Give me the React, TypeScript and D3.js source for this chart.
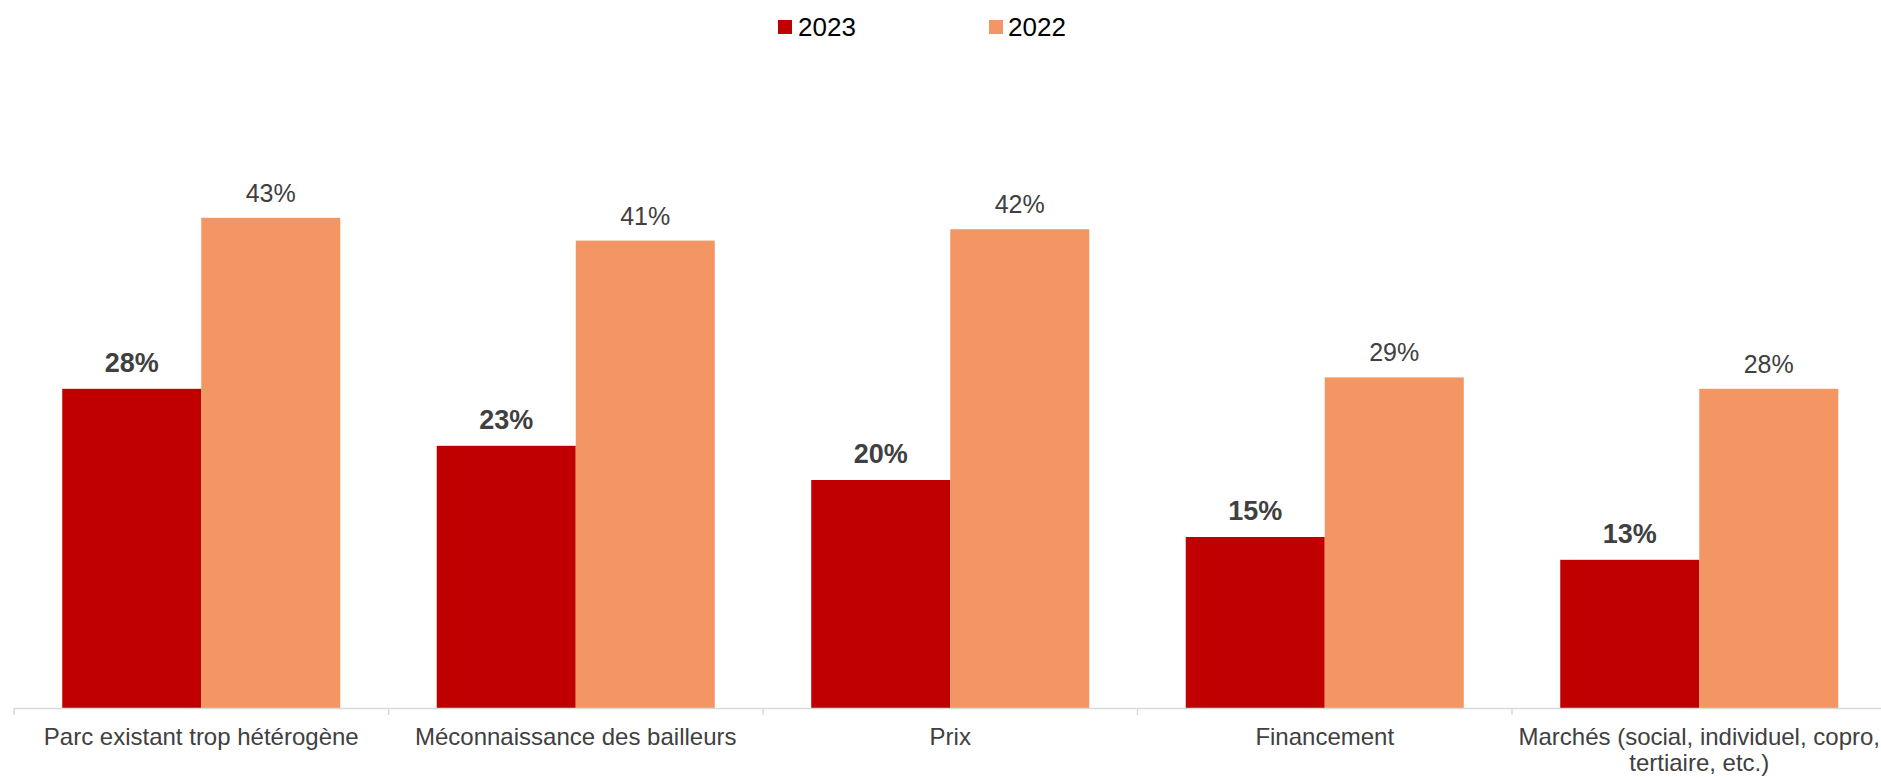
import React from "react";
import * as d3 from "d3";

const categories: string[][] = [
  ["Parc existant trop hétérogène"],
  ["Méconnaissance des bailleurs"],
  ["Prix"],
  ["Financement"],
  ["Marchés (social, individuel, copro,", "tertiaire, etc.)"],
];
const seriesNames = ["2023", "2022"];
const values2023 = [28, 23, 20, 15, 13];
const values2022 = [43, 41, 42, 29, 28];
const colors = ["#C00000", "#F49664"];

const W = 1881;
const H = 777;
const FONT = "'Liberation Sans', Arial, Helvetica, sans-serif";

export default function App() {
  const keys = categories.map((_, i) => String(i));
  const x0 = d3.scaleBand<string>().domain(keys).range([14, 1886.5]).paddingInner(0).paddingOuter(0);
  const x1 = d3.scaleBand<string>().domain(seriesNames).range([0, x0.bandwidth()]).paddingInner(0).paddingOuter(0.347);
  const y = d3.scaleLinear().domain([0, 50]).range([708, 138]);
  const data = [values2023, values2022];
  const baseY = y(0);

  return (
    <svg width={W} height={H} style={{ position: "absolute", left: 0, top: 0, background: "#fff" }} fontFamily={FONT}>
      {/* legend */}
      <g>
        <rect x={778} y={20} width={14} height={14} fill={colors[0]} />
        <text x={798} y={36} fontSize={26} fill="#000">{seriesNames[0]}</text>
        <rect x={989} y={20} width={14} height={14} fill={colors[1]} />
        <text x={1008} y={36} fontSize={26} fill="#000">{seriesNames[1]}</text>
      </g>
      {/* bars */}
      {keys.map((k, i) => (
        <g key={k} transform={`translate(${x0(k)},0)`}>
          {seriesNames.map((s, j) => {
            const v = data[j][i];
            const bx = x1(s)!;
            const bw = x1.bandwidth();
            return (
              <g key={s}>
                <rect x={bx} y={y(v)} width={bw} height={baseY - y(v)} fill={colors[j]} />
                <text
                  x={bx + bw / 2}
                  y={y(v) - (j === 0 ? 17 : 16)}
                  textAnchor="middle"
                  fontSize={j === 0 ? 27 : 25}
                  fontWeight={j === 0 ? "bold" : "normal"}
                  fill="#404040"
                >
                  {v}%
                </text>
              </g>
            );
          })}
        </g>
      ))}
      {/* axis */}
      <line x1={14} x2={1886.5} y1={baseY + 0.5} y2={baseY + 0.5} stroke="#D9D9D9" strokeWidth={1.5} />
      {keys.map((k) => (
        <line key={"t" + k} x1={x0(k)!} x2={x0(k)!} y1={baseY} y2={baseY + 7} stroke="#D9D9D9" strokeWidth={1.5} />
      ))}
      {categories.map((lines, i) => (
        <text key={"c" + i} x={x0(keys[i])! + x0.bandwidth() / 2} y={745} textAnchor="middle" fontSize={24} fill="#404040">
          {lines.map((l, li) => (
            <tspan key={li} x={x0(keys[i])! + x0.bandwidth() / 2} dy={li === 0 ? 0 : 25.5}>
              {l}
            </tspan>
          ))}
        </text>
      ))}
    </svg>
  );
}
